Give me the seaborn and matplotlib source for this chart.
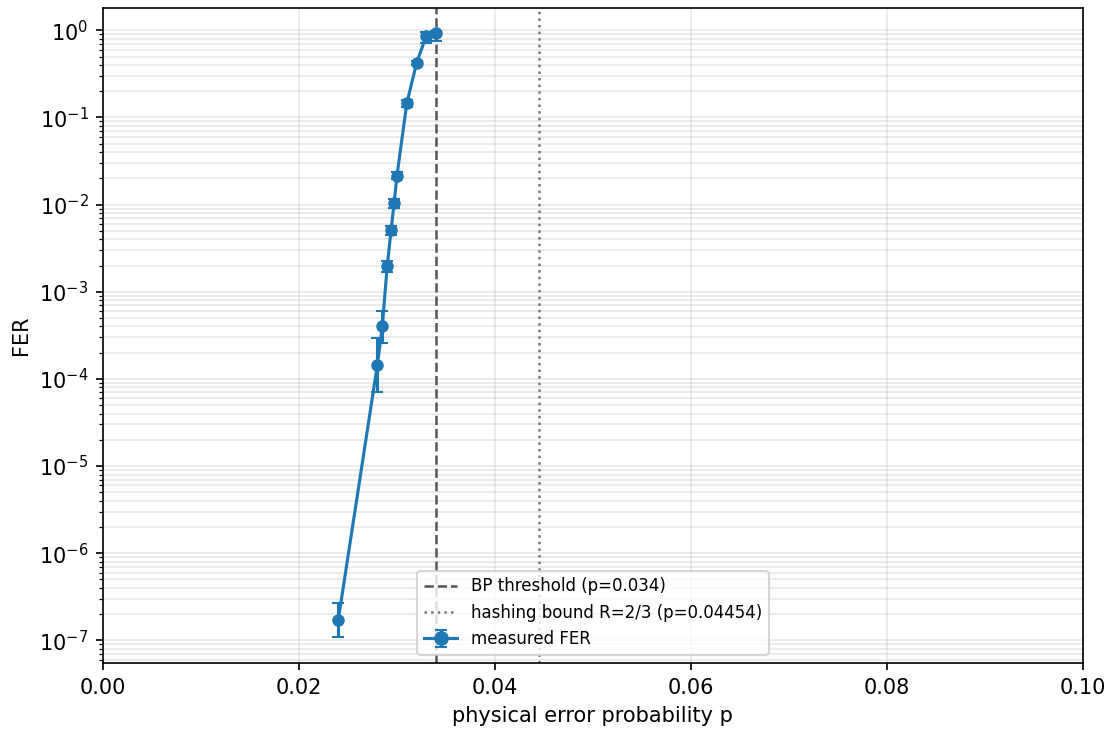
import numpy as np
import pandas as pd
import matplotlib
matplotlib.use("Agg")
import matplotlib.pyplot as plt
import seaborn as sns

# measured frame error rate vs physical error probability
p_vals = [0.024, 0.028, 0.0285, 0.029, 0.0294, 0.0297, 0.030, 0.031, 0.032, 0.033, 0.034]
fer = [1.7e-7, 1.45e-4, 4.0e-4, 1.95e-3, 5.1e-3, 1.03e-2, 2.15e-2, 0.145, 0.42, 0.87, 0.93]
fer_lo = [1.1e-7, 7.0e-5, 2.6e-4, 1.7e-3, 4.5e-3, 9.2e-3, 1.95e-2, 0.133, 0.395, 0.72, 0.76]
fer_hi = [2.7e-7, 2.95e-4, 6.0e-4, 2.25e-3, 5.7e-3, 1.15e-2, 2.35e-2, 0.158, 0.445, 0.95, 0.98]

bp_threshold = 0.034
hashing_bound = 0.04454

blue = sns.color_palette("tab10")[0]

df = pd.DataFrame({"p": p_vals, "fer": fer})
yerr = np.array([np.array(fer) - np.array(fer_lo), np.array(fer_hi) - np.array(fer)])

fig, ax = plt.subplots(figsize=(1114 / 150, 729 / 150), dpi=150)
fig.subplots_adjust(left=0.0925, right=0.972, top=0.989, bottom=0.0905)

ax.axvline(bp_threshold, color="#555555", linestyle="--", lw=1.2,
           label=f"BP threshold (p={bp_threshold})")
ax.axvline(hashing_bound, color="#777777", linestyle=":", lw=1.2,
           label=f"hashing bound R=2/3 (p={hashing_bound})")

sns.lineplot(data=df, x="p", y="fer", marker="o", markersize=6, markeredgewidth=0,
             color=blue, lw=1.5, legend=False, ax=ax)
ax.errorbar(df["p"], df["fer"], yerr=yerr, fmt="none", ecolor=blue, elinewidth=1.5, capsize=3)
# proxy so the legend shows the errorbar handle
ax.errorbar([np.nan], [np.nan], yerr=[[np.nan], [np.nan]], fmt="o-", color=blue,
            ms=6, lw=1.5, capsize=3, label="measured FER")

ax.set_yscale("log")
ax.set_xlim(0, 0.1)
ax.set_ylim(5.5e-8, 1.8)
ax.grid(True, which="both", alpha=0.3)
ax.set_xlabel("physical error probability p")
ax.set_ylabel("FER")
ax.legend(loc="lower center", fontsize=8)

fig.savefig("out.png", dpi=150)
